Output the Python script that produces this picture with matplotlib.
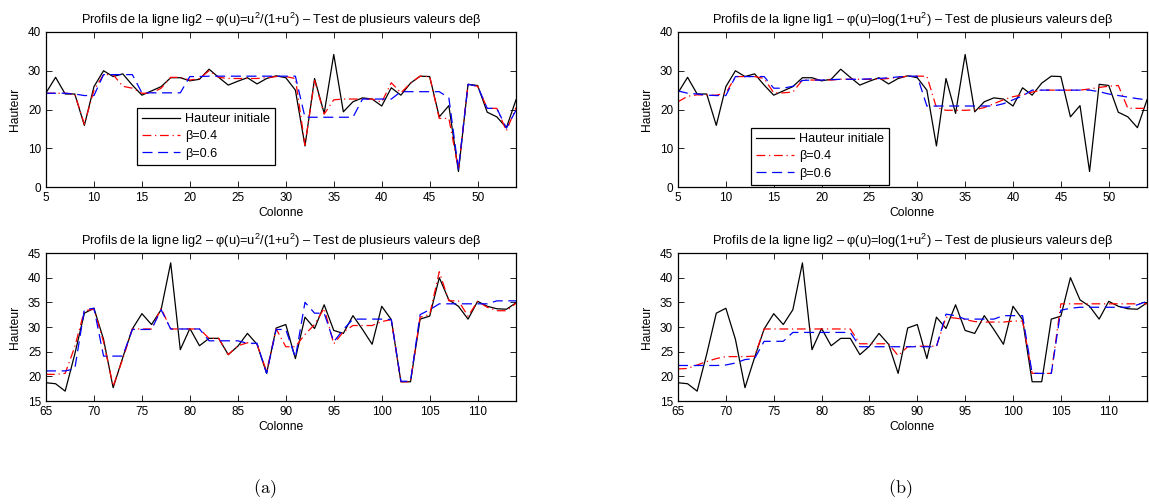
import numpy as np
import matplotlib.pyplot as plt

plt.rcParams["font.family"] = ["Liberation Sans", "DejaVu Sans"]
plt.rcParams["mathtext.fontset"] = "custom"
plt.rcParams["mathtext.rm"] = "Liberation Sans"
plt.rcParams["mathtext.it"] = "Liberation Sans:italic"

# -----------------------------
# DATA
# -----------------------------
cols_top = np.arange(5, 55)
cols_bot = np.arange(65, 115)

# initial height, columns 5..54 (same for both top panels)
h_top = [24.3, 28.3, 24.0, 24.0, 15.9, 25.9, 30.0, 28.5, 29.2, 26.3,
         23.7, 24.8, 25.9, 28.2, 28.2, 27.4, 27.8, 30.4, 28.3, 26.3,
         27.3, 28.2, 26.6, 28.0, 28.7, 28.2, 25.0, 10.6, 28.0, 19.0,
         34.2, 19.4, 22.0, 23.0, 22.7, 20.9, 25.6, 23.7, 26.8, 28.6,
         28.5, 18.1, 21.0, 4.0, 26.5, 26.2, 19.3, 18.1, 15.3, 22.5]

# initial height, columns 65..114 (same for both bottom panels)
h_bot = [18.7, 18.5, 17.0, 24.5, 32.8, 33.8, 27.5, 17.7, 23.8, 29.6,
         32.7, 30.5, 33.5, 43.0, 25.4, 29.7, 26.2, 27.7, 27.7, 24.4,
         26.1, 28.7, 26.5, 20.6, 29.8, 30.5, 23.6, 32.0, 29.7, 34.5,
         29.3, 28.7, 32.3, 29.5, 26.5, 34.2, 31.5, 18.9, 18.9, 31.6,
         32.2, 40.0, 35.5, 34.2, 31.6, 35.2, 34.2, 33.7, 33.6, 34.9]

# phi(u) = u^2/(1+u^2), lig2, top
tl_b04 = [24.2, 24.2, 24.2, 24.0, 16.2, 25.0, 29.0, 29.0, 26.0, 25.5,
          24.2, 24.2, 25.5, 28.3, 28.3, 27.6, 28.0, 30.0, 28.3, 28.0,
          28.0, 28.0, 28.0, 28.2, 28.5, 28.5, 28.0, 10.8, 27.5, 18.8,
          22.5, 22.7, 22.7, 22.7, 22.7, 21.9, 26.9, 24.3, 26.8, 28.6,
          28.5, 17.7, 17.7, 4.5, 26.5, 26.0, 20.3, 20.3, 14.5, 20.5]
tl_b06 = [24.2, 24.2, 24.2, 24.0, 23.6, 23.6, 29.0, 29.0, 29.0, 29.0,
          24.3, 24.3, 24.3, 24.3, 24.3, 28.5, 28.5, 28.6, 28.6, 28.6,
          28.6, 28.6, 28.6, 28.6, 28.6, 28.6, 28.6, 18.0, 18.0, 18.0,
          18.0, 18.0, 18.0, 22.7, 22.7, 22.7, 22.7, 24.6, 24.6, 24.6,
          24.6, 24.6, 23.0, 4.5, 26.5, 26.0, 20.3, 20.3, 15.2, 19.8]

# phi(u) = log(1+u^2), lig1, top
tr_b04 = [22.0, 23.4, 23.8, 23.7, 23.7, 24.2, 28.5, 28.5, 28.5, 28.0,
          24.3, 24.3, 24.5, 27.6, 27.6, 27.6, 27.6, 27.8, 27.8, 27.8,
          27.8, 27.8, 28.0, 28.3, 28.6, 28.6, 28.6, 20.5, 19.8, 19.8,
          19.8, 19.9, 20.5, 21.5, 22.5, 23.3, 23.8, 24.5, 25.0, 25.0,
          25.0, 25.0, 25.0, 25.3, 25.7, 26.0, 26.2, 20.3, 20.3, 20.3]
tr_b06 = [24.8, 24.2, 24.0, 23.7, 23.6, 23.6, 28.5, 28.5, 28.5, 28.5,
          25.5, 25.5, 26.0, 27.5, 27.6, 27.6, 27.7, 27.8, 27.8, 27.8,
          27.9, 28.0, 28.2, 28.4, 28.6, 28.6, 20.9, 20.9, 20.9, 20.9,
          20.9, 20.9, 20.9, 20.9, 21.5, 22.5, 23.5, 25.0, 25.0, 25.0,
          25.0, 25.0, 25.0, 25.0, 24.6, 24.0, 23.6, 23.2, 22.8, 22.5]

# phi(u) = u^2/(1+u^2), lig2, bottom
bl_b04 = [20.4, 20.4, 20.6, 26.0, 33.3, 33.6, 27.0, 18.0, 23.5, 29.6,
          29.6, 29.6, 33.8, 29.6, 29.6, 29.6, 29.6, 27.7, 27.7, 24.4,
          26.2, 26.8, 26.5, 21.0, 29.6, 26.0, 26.0, 28.5, 30.5, 33.8,
          26.6, 29.0, 30.3, 30.3, 30.3, 31.1, 31.5, 18.9, 18.9, 32.0,
          32.5, 41.2, 35.3, 35.3, 32.2, 35.2, 34.0, 33.3, 33.3, 34.8]
bl_b06 = [21.1, 21.1, 21.1, 21.5, 33.5, 33.8, 24.1, 24.1, 24.1, 29.5,
          29.5, 29.5, 33.5, 29.6, 29.6, 29.6, 29.6, 27.2, 27.2, 27.2,
          27.2, 26.7, 26.7, 20.6, 29.5, 29.5, 23.8, 35.0, 32.8, 32.8,
          27.0, 29.5, 31.6, 31.6, 31.6, 31.6, 31.5, 19.0, 19.0, 32.5,
          33.5, 34.7, 34.7, 34.7, 34.7, 34.7, 34.7, 35.3, 35.3, 35.3]

# phi(u) = log(1+u^2), lig2, bottom
br_b04 = [21.5, 21.6, 22.3, 23.0, 23.6, 24.0, 24.0, 24.0, 24.1, 29.6,
          29.6, 29.6, 29.6, 29.6, 29.6, 29.6, 29.6, 29.6, 29.6, 26.6,
          26.6, 26.6, 26.6, 24.2, 26.0, 26.1, 26.1, 26.1, 32.0, 31.8,
          31.5, 31.1, 31.0, 31.0, 31.0, 31.2, 31.2, 20.6, 20.6, 20.6,
          34.7, 34.7, 34.7, 34.7, 34.7, 34.7, 34.7, 34.7, 34.7, 34.7]
br_b06 = [22.2, 22.2, 22.2, 22.2, 22.2, 22.3, 22.7, 23.4, 23.6, 27.1,
          27.1, 27.1, 28.9, 28.9, 28.9, 28.9, 28.9, 28.9, 28.9, 26.0,
          26.0, 26.0, 26.0, 26.0, 26.0, 26.0, 26.0, 26.0, 32.6, 32.3,
          31.6, 31.6, 31.6, 31.6, 32.3, 32.3, 32.3, 20.6, 20.6, 20.6,
          33.4, 33.8, 34.0, 34.0, 34.0, 34.0, 34.0, 34.0, 34.5, 35.2]

TITLE_FRAC = r"u$^2$/(1+u$^2$)"
TITLE_LOG = r"log(1+u$^2$)"

def make_title(line, phi):
    return ("Profils de la ligne " + line + " \u2013 \u03c6(u)=" + phi
            + " \u2013 Test de plusieurs valeurs de\u03b2")

panels = [
    # (left px, top px, bottom px, width px, cols, init, b04, b06, title, top row)
    (46, 32, 187, 470, cols_top, h_top, tl_b04, tl_b06, make_title("lig2", TITLE_FRAC), True),
    (678, 32, 187, 469, cols_top, h_top, tr_b04, tr_b06, make_title("lig1", TITLE_LOG), True),
    (46, 253, 401, 470, cols_bot, h_bot, bl_b04, bl_b06, make_title("lig2", TITLE_FRAC), False),
    (678, 253, 401, 469, cols_bot, h_bot, br_b04, br_b06, make_title("lig2", TITLE_LOG), False),
]
legend_anchor = {0: (0.194, 0.51), 1: (0.156, 0.38)}

W, H = 1149, 504
fig = plt.figure(figsize=(W / 100, H / 100), dpi=100)

for i, (lpx, tpx, bpx, wpx, cols, h0, b04, b06, title, top) in enumerate(panels):
    ax = fig.add_axes([lpx / W, (H - bpx) / H, wpx / W, (bpx - tpx) / H])

    ax.plot(cols, h0, color="k", lw=0.9, label="Hauteur initiale")
    ax.plot(cols, b04, color="r", lw=0.9, ls=(0, (7, 3, 1, 3)), label="\u03b2=0.4")
    ax.plot(cols, b06, color="b", lw=0.9, ls=(0, (8, 4.5)), label="\u03b2=0.6")

    ax.set_xlim(cols[0], cols[-1])
    if top:
        ax.set_ylim(0, 40)
        ax.set_yticks(np.arange(0, 41, 10))
        ax.set_xticks(np.arange(5, 51, 5))
    else:
        ax.set_ylim(15, 45)
        ax.set_yticks(np.arange(15, 46, 5))
        ax.set_xticks(np.arange(65, 111, 5))

    ax.tick_params(direction="in", top=True, right=True, length=4, width=0.6,
                   labelsize=8.5, pad=3.5)
    for s in ax.spines.values():
        s.set_linewidth(0.9)

    ax.set_title(title, fontsize=9.2, pad=6)
    ax.set_xlabel("Colonne", fontsize=8.7, labelpad=2)
    ax.set_ylabel("Hauteur", fontsize=8.7, labelpad=5)

    if i in legend_anchor:
        leg = ax.legend(loc="upper left", bbox_to_anchor=legend_anchor[i],
                        fontsize=9.1, fancybox=False, framealpha=1,
                        edgecolor="k", borderpad=0.4, labelspacing=0.42,
                        handlelength=3.0, handletextpad=0.4, borderaxespad=0)
        leg.get_frame().set_linewidth(0.9)

fig.text(265 / W, 1 - 489 / H, r"$\mathrm{(a)}$", math_fontfamily="cm",
         fontsize=13, ha="center", va="center")
fig.text(900 / W, 1 - 489 / H, r"$\mathrm{(b)}$", math_fontfamily="cm",
         fontsize=13, ha="center", va="center")

fig.savefig("out.png", dpi=100)
